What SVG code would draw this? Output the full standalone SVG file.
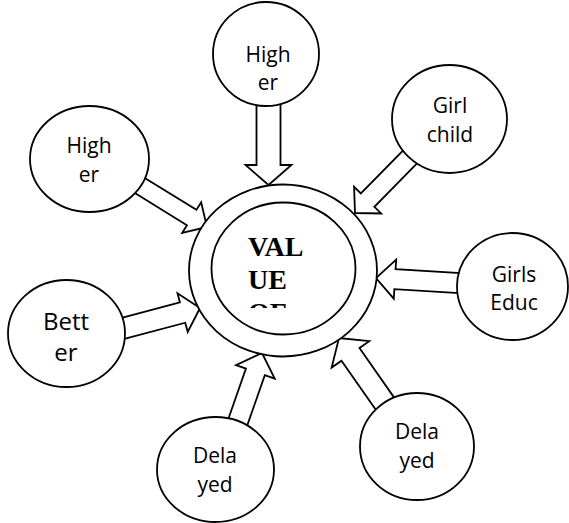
<svg xmlns="http://www.w3.org/2000/svg" width="569" height="523" viewBox="0 0 569 523">
<style>
.arrow{fill:#fff;stroke:#000;stroke-width:1.8;stroke-linejoin:miter}
.node{fill:#fff;stroke:#000;stroke-width:1.8}
.lbl{font-family:"Open Sans","Liberation Sans",Arial,sans-serif;font-size:21px;fill:#000;text-anchor:middle}
.big{font-family:"Liberation Serif","Times New Roman",serif;font-size:28px;font-weight:bold;fill:#000}
</style>
<defs>
<clipPath id="cut"><rect x="200" y="200" width="170" height="108"/></clipPath>
</defs>
<rect width="569" height="523" fill="#fff"/>
<g id="connectors">
<polygon class="arrow" transform="translate(268.5,185) rotate(90)" points="-85,-12 -20,-12 -20,-23 0,0 -20,23 -20,12 -85,12"/>
<polygon class="arrow" transform="translate(355,213) rotate(134.5)" points="-82,-9.5 -18,-9.5 -18,-19 0,0 -18,19 -18,9.5 -82,9.5"/>
<polygon class="arrow" transform="translate(376,278) rotate(183.5)" points="-88,-10 -19,-10 -19,-19.5 0,0 -19,19.5 -19,10 -88,10"/>
<polygon class="arrow" transform="translate(339,338) rotate(235)" points="-86,-11 -20,-11 -20,-23 0,0 -20,23 -20,11 -86,11"/>
<polygon class="arrow" transform="translate(262,353) rotate(-70.7)" points="-80,-10 -20,-10 -20,-20.5 0,0 -20,20.5 -20,10 -80,10"/>
<polygon class="arrow" transform="translate(200,308) rotate(-14.8)" points="-85,-10.5 -18,-10.5 -18,-20 0,0 -18,20 -18,10.5 -85,10.5"/>
<polygon class="arrow" transform="translate(207,227) rotate(31.7)" points="-84,-9 -18,-9 -18,-18 0,0 -18,18 -18,9 -84,9"/>
</g>
<g id="center">
<ellipse class="node" cx="283" cy="270.5" rx="94" ry="86"/>
<ellipse class="node" cx="283.5" cy="268.5" rx="72" ry="66"/>
<g clip-path="url(#cut)">
<text class="big" x="248" y="256">VAL</text>
<text class="big" x="248" y="289">UE</text>
<text class="big" x="248" y="322">OF</text>
</g>
</g>
<g id="top-higher">
<ellipse class="node" cx="266" cy="54" rx="53" ry="52"/>
<text class="lbl" x="268" y="62">High</text>
<text class="lbl" x="268" y="90">er</text>
</g>
<g id="left-higher">
<ellipse class="node" cx="89.5" cy="159" rx="59.5" ry="53"/>
<text class="lbl" x="89" y="153">High</text>
<text class="lbl" x="89" y="182">er</text>
</g>
<g id="girl-child">
<ellipse class="node" cx="449.5" cy="119" rx="57.5" ry="54"/>
<text class="lbl" x="450" y="113">Girl</text>
<text class="lbl" x="450" y="142">child</text>
</g>
<g id="girls-educ">
<ellipse class="node" cx="512.5" cy="286.5" rx="55.5" ry="53.5"/>
<text class="lbl" x="514" y="282">Girls</text>
<text class="lbl" x="514" y="310">Educ</text>
</g>
<g id="better">
<ellipse class="node" cx="66.5" cy="333.5" rx="58.5" ry="53.5"/>
<text class="lbl" x="66" y="330" style="font-size:24px">Bett</text>
<text class="lbl" x="66" y="361" style="font-size:24px">er</text>
</g>
<g id="delayed-left">
<ellipse class="node" cx="215.5" cy="469.5" rx="58.5" ry="52.5"/>
<text class="lbl" x="215" y="463">Dela</text>
<text class="lbl" x="215" y="492">yed</text>
</g>
<g id="delayed-right">
<ellipse class="node" cx="417" cy="446.5" rx="57" ry="53.5"/>
<text class="lbl" x="417" y="439">Dela</text>
<text class="lbl" x="417" y="468">yed</text>
</g>
</svg>
